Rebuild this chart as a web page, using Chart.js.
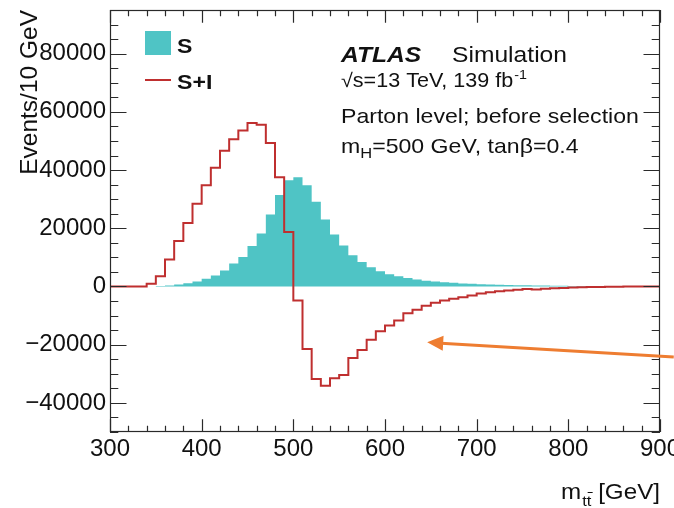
<!DOCTYPE html>
<html>
<head>
<meta charset="utf-8">
<script src="https://cdn.jsdelivr.net/npm/chart.js@4.4.0/dist/chart.umd.min.js"></script>
<style>
html,body{margin:0;padding:0;background:#fff;overflow:hidden;}
#c{display:block;}
</style>
</head>
<body>
<canvas id="c" width="674" height="508"></canvas>
<script>
// ---------- data ----------
const binLow = [300,310,320,330,340,350,360,370,380,390,
                400,410,420,430,440,450,460,470,480,490,
                500,510,520,530,540,550,560,570,580,590,
                600,610,620,630,640,650,660,670,680,690,
                700,710,720,730,740,750,760,770,780,790,
                800,810,820,830,840,850,860,870,880,890];
const binHigh = 900;
const sValues = [0,0,0,0,0,150,350,690,1150,1720,
                 2650,3800,5500,7900,10100,13900,18200,24700,31400,36500,
                 37500,34800,29100,23000,17900,14100,10700,8400,6600,5200,
                 4200,3500,2900,2400,2000,1700,1450,1250,1050,900,
                 800,700,600,520,450,390,340,300,260,220,
                 190,160,130,110,90,70,55,45,35,25];
const siValues = [0,0,0,0,900,3500,9300,15600,21800,28400,
                  34800,40800,46600,50600,53600,56200,55600,49300,37500,18700,
                  -4800,-21500,-31800,-34100,-31500,-30400,-24600,-21800,-18300,-15400,
                  -13400,-11700,-9200,-8000,-6600,-5600,-4800,-4250,-3700,-3100,
                  -2400,-2000,-1650,-1380,-1100,-850,-1000,-800,-600,-480,
                  -380,-280,-200,-170,-100,-60,-40,-30,-20,-10];
const xTickValues = [300,400,500,600,700,800,900];
const xTickLabels = ['300','400','500','600','700','800','900'];
const yTickValues = [-40000,-20000,0,20000,40000,60000,80000];
const yTickLabels = ['\u221240000','\u221220000','0','20000','40000','60000','80000'];
const seriesNames = ['S','S+I'];

// ---------- style ----------
const FONT = '"Liberation Sans", Arial, Helvetica, sans-serif';
const TEAL = '#4fc4c5';
const RED = '#bf2f2f';
const ORANGE = '#ee7d31';
const AXIS = '#2a2a2a';

function stepPoints(vals){
  const pts = binLow.map((x,i)=>({x:x, y:vals[i]}));
  pts.push({x:binHigh, y:vals[vals.length-1]});
  return pts;
}

function txt(ctx, s, x, y, size, opts){
  opts = opts || {};
  ctx.save();
  ctx.font = (opts.style||'') + ' ' + size + 'px ' + FONT;
  ctx.fillStyle = opts.color || '#111';
  ctx.textBaseline = 'alphabetic';
  ctx.textAlign = 'left';
  const sx = opts.sx || 1.1;
  const w = ctx.measureText(s).width * sx;
  let x0 = x;
  if (opts.align === 'right') x0 = x - w;
  ctx.translate(x0, y);
  ctx.scale(sx, 1);
  ctx.fillText(s, 0, 0);
  ctx.restore();
  return x0 + w;
}

const decor = {
  id:'decor',
  afterDraw(chart){
    const ctx = chart.ctx;
    const {left,right,top,bottom} = chart.chartArea;
    const xs = chart.scales.x, ys = chart.scales.y;
    ctx.save();
    ctx.strokeStyle = AXIS; ctx.lineWidth = 1.2;
    ctx.strokeRect(left+0.5, top+0.5, right-left-1, bottom-top-1);
    ctx.beginPath();
    for (let v=300; v<=900; v+=20){
      const p = Math.round(xs.getPixelForValue(v))+0.5;
      const L = (v%100===0) ? 12.7 : 6.3;
      ctx.moveTo(p,bottom); ctx.lineTo(p,bottom-L);
      ctx.moveTo(p,top); ctx.lineTo(p,top+L);
    }
    for (let v=-50000; v<=95000; v+=5000){
      const p = Math.round(ys.getPixelForValue(v))+0.5;
      const L = (v%20000===0) ? 16.5 : 8.3;
      ctx.moveTo(left,p); ctx.lineTo(left+L,p);
      ctx.moveTo(right,p); ctx.lineTo(right-L,p);
    }
    ctx.stroke();

    ctx.fillStyle = TEAL;
    ctx.fillRect(145, 31, 26, 24);
    ctx.strokeStyle = RED; ctx.lineWidth = 2;
    ctx.beginPath(); ctx.moveTo(145,80); ctx.lineTo(171,80); ctx.stroke();
    txt(ctx, seriesNames[0], 177, 53, 21, {style:'bold'});
    txt(ctx, seriesNames[1], 177, 89, 21, {style:'bold'});

    txt(ctx, 'ATLAS', 341, 62, 22.4, {style:'italic bold'});
    txt(ctx, 'Simulation', 452, 62, 22.4);
    let x = txt(ctx, '\u221As=13 TeV, 139 fb', 341, 87, 19.6);
    txt(ctx, '-1', x+1, 79, 13);
    txt(ctx, 'Parton level; before selection', 341, 123, 21);
    x = txt(ctx, 'm', 341, 153, 21);
    x = txt(ctx, 'H', x, 158, 15);
    txt(ctx, '=500 GeV, tan\u03B2=0.4', x, 153, 21);

    ctx.save();
    ctx.font = '24.5px ' + FONT; ctx.fillStyle = '#111';
    ctx.translate(37, 10); ctx.rotate(-Math.PI/2);
    ctx.textAlign = 'right'; ctx.textBaseline = 'alphabetic';
    ctx.fillText('Events/10 GeV', 0, 0);
    ctx.restore();

    x = txt(ctx, 'm', 561, 499, 22);
    const tx = x + 1;
    x = txt(ctx, 'tt', tx, 506, 15);
    ctx.strokeStyle = '#111'; ctx.lineWidth = 1;
    ctx.beginPath(); ctx.moveTo(tx+5.5, 492.5); ctx.lineTo(tx+10.5, 492.5); ctx.stroke();
    txt(ctx, '[GeV]', 660, 499, 22, {align:'right'});

    const tipX = xs.getPixelForValue(646), tipY = ys.getPixelForValue(-19200);
    const tailX = xs.getPixelForValue(915), tailY = ys.getPixelForValue(-24200);
    const dx = tailX-tipX, dy = tailY-tipY, d = Math.hypot(dx,dy);
    const ux = dx/d, uy = dy/d;
    const hl = 16, hw = 7.5;
    const bx = tipX + ux*hl, by = tipY + uy*hl;
    ctx.strokeStyle = ORANGE; ctx.lineWidth = 3; ctx.lineCap = 'butt';
    ctx.beginPath(); ctx.moveTo(bx-ux*2, by-uy*2); ctx.lineTo(tailX, tailY); ctx.stroke();
    ctx.fillStyle = ORANGE;
    ctx.beginPath();
    ctx.moveTo(tipX, tipY);
    ctx.lineTo(bx - uy*hw, by + ux*hw);
    ctx.lineTo(bx + uy*hw, by - ux*hw);
    ctx.closePath(); ctx.fill();
    ctx.restore();
  }
};

new Chart(document.getElementById('c').getContext('2d'), {
  type: 'line',
  data: {
    datasets: [
      { label: seriesNames[1], data: stepPoints(siValues), stepped: true,
        borderColor: RED, borderWidth: 2, pointRadius: 0, fill: false },
      { label: seriesNames[0], data: stepPoints(sValues), stepped: true,
        borderColor: 'rgba(0,0,0,0)', borderWidth: 0, backgroundColor: TEAL,
        pointRadius: 0, fill: 'origin' }
    ]
  },
  options: {
    responsive: false,
    animation: false,
    devicePixelRatio: 1,
    layout: { padding: { left: 0, top: 10, right: 14, bottom: 0 } },
    plugins: { legend: { display: false }, tooltip: { enabled: false } },
    scales: {
      x: {
        type: 'linear', min: 300, max: 900,
        grid: { display: false, drawTicks: false },
        border: { display: false },
        afterBuildTicks: s => { s.ticks = xTickValues.map(v => ({ value: v })); },
        afterFit: s => { s.height = 76; s.paddingLeft = 0; s.paddingRight = 0; },
        ticks: {
          font: { family: FONT, size: 24 }, color: '#111', padding: 3,
          maxRotation: 0, autoSkip: false,
          callback: v => xTickLabels[xTickValues.indexOf(v)]
        }
      },
      y: {
        type: 'linear', min: -50000, max: 95000,
        grid: { display: false, drawTicks: false },
        border: { display: false },
        afterBuildTicks: s => { s.ticks = yTickValues.map(v => ({ value: v })); },
        afterFit: s => { s.width = 110; s.paddingTop = 0; s.paddingBottom = 0; },
        ticks: {
          font: { family: FONT, size: 24 }, color: '#111', padding: 4,
          autoSkip: false,
          callback: v => yTickLabels[yTickValues.indexOf(v)]
        }
      }
    }
  },
  plugins: [decor]
});
</script>
</body>
</html>
